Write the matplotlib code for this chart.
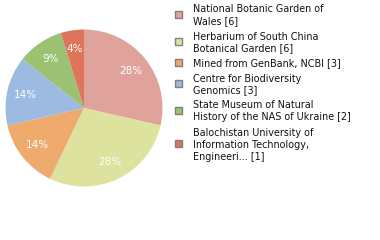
import matplotlib
matplotlib.use("Agg")
import matplotlib.pyplot as plt
from matplotlib.patches import Rectangle

labels = [
    "National Botanic Garden of\nWales [6]",
    "Herbarium of South China\nBotanical Garden [6]",
    "Mined from GenBank, NCBI [3]",
    "Centre for Biodiversity\nGenomics [3]",
    "State Museum of Natural\nHistory of the NAS of Ukraine [2]",
    "Balochistan University of\nInformation Technology,\nEngineeri... [1]",
]
values = [6, 6, 3, 3, 2, 1]
colors = ["#E0A39C", "#DDE29F", "#EFAB6E", "#9DBAE0", "#9BC172", "#DE7459"]

W, H = 380, 240
fig = plt.figure(figsize=(W / 100, H / 100), dpi=100)

# pie axes: center (84,108) px, radius 78.5 px
cx, cy, r = 84, 108, 78.5
ax = fig.add_axes([(cx - r) / W, (H - cy - r) / H, 2 * r / W, 2 * r / H])
ax.pie(values, colors=colors, startangle=90, counterclock=False,
       autopct=lambda p: f"{int(p)}%", pctdistance=0.76,
       textprops=dict(color="white", fontsize=7.5, family="DejaVu Sans"),
       wedgeprops=dict(linewidth=0))
ax.set_xlim(-1, 1)
ax.set_ylim(-1, 1)
ax.set_aspect("equal")
ax.axis("off")

# legend
line_h = 12.0
gap = 3.0
y = 8.5
tx = 193
sq = 7
for lab, col in zip(labels, colors):
    lines = lab.split("\n")
    centers = [y + i * line_h for i in range(len(lines))]
    for ln, yc in zip(lines, centers):
        fig.text(tx / W, 1 - yc / H, ln, fontsize=6.9, family="DejaVu Sans",
                 va="center_baseline", ha="left", color="#111111")
    bc = (centers[0] + centers[-1]) / 2
    fig.patches.append(Rectangle(((178 - sq / 2) / W, 1 - (bc + sq / 2) / H), sq / W, sq / H,
                                 transform=fig.transFigure, facecolor=col,
                                 edgecolor="#808080", linewidth=1.0))
    y = centers[-1] + line_h + gap

fig.savefig("out.png", dpi=100)
